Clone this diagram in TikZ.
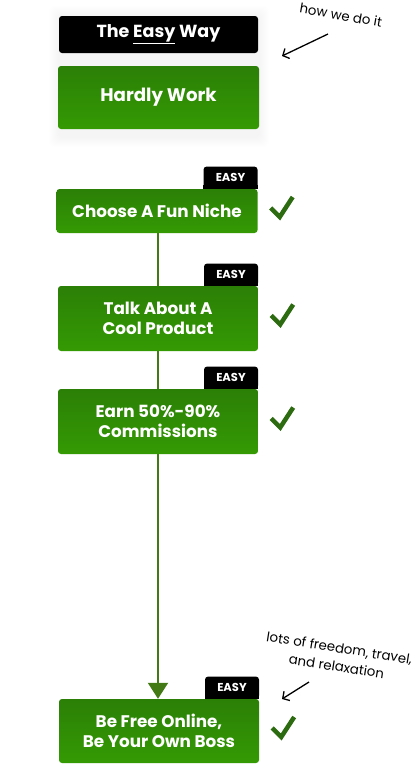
\documentclass[tikz,border=0pt]{standalone}
\usepackage{fontspec}
\setmainfont{Poppins}
\newfontfamily\notefont{Poppins}
\usetikzlibrary{arrows.meta,positioning}
\definecolor{Leaf}{HTML}{349A03}
\definecolor{LeafTop}{HTML}{2B7F06}
\definecolor{Stem}{HTML}{437A16}
\definecolor{Tick}{HTML}{2C6B10}
\pgfdeclarelayer{background}
\pgfsetlayers{background,main}

\begin{document}
\begin{tikzpicture}[
  x=1pt,y=-1pt,
  greenbox/.style={top color=LeafTop,bottom color=Leaf,rounded corners=3pt,minimum width=200pt,minimum height=65pt,align=center,text=white,font=\bfseries\fontsize{16.8}{20.5}\selectfont},
  darkbox/.style={fill=black,rounded corners=3pt,minimum width=199pt,minimum height=37pt,text=white,font=\bfseries\fontsize{17.5}{20}\selectfont},
  easytag/.style={fill=black,rounded corners=3pt,minimum width=54pt,minimum height=22pt,inner sep=0pt,text=white,font=\bfseries\fontsize{11.5}{12}\selectfont},
  flowline/.style={draw=Stem,line width=2pt},
  checkline/.style={draw=Tick,line width=4.5pt,line join=miter},
  tick/.pic={\draw[checkline] (-10,1) -- (-1,10) -- (12,-10);},
  note/.style={font=\notefont\fontsize{13.3}{18.5}\selectfont,align=center,inner sep=0pt},
  notearrow/.style={draw=black,line width=1.3pt,-{Straight Barb[length=5pt,width=11pt]}}
]
\useasboundingbox (0,0) rectangle (415,764);

% header
\node[darkbox] (easyway) at (158.5,34.5) {The \underline{Easy} Way};
\node[greenbox,minimum width=201pt,minimum height=63pt,font=\bfseries\fontsize{18.2}{20}\selectfont] (hardly) at (158.5,97.5) {Hardly Work};
\begin{pgfonlayer}{background}
  \foreach \s in {1,...,10}
    \fill[black,opacity=0.005,rounded corners=6pt] ([xshift=-\s pt,yshift=\s pt]easyway.north west) rectangle ([xshift=\s pt,yshift={-(\s+8)*1pt}]hardly.south east);
\end{pgfonlayer}

% steps
\node[greenbox,minimum width=201pt,minimum height=44pt] (niche) at (157,211) {Choose A Fun Niche};
\node[greenbox] (product) at (158,318.5) {Talk About A\\Cool Product};
\node[greenbox] (earn) at (158,421.5) {Earn 50\%-90\%\\Commissions};
\node[greenbox,minimum height=64pt] (free) at (159,731) {Be Free Online,\\Be Your Own Boss};

% tags and ticks
\foreach \b in {niche,product,earn,free} {
  \node[easytag,anchor=south east] (tag-\b) at (\b.north east) {EASY};
  \fill[black] (tag-\b.south west) rectangle ([yshift=4pt]tag-\b.south east);
  \pic at ([xshift=23pt,yshift=4pt]\b.east) {tick};
}

% connectors
\draw[flowline] (niche.south -| product.north) -- (product.north);
\draw[flowline] (product.south) -- (earn.north);
\draw[flowline,-{Triangle[length=16pt,width=20pt]}] (earn.south) -- (earn.south |- free.north);

% notes
\node[note,rotate=-10] (hownote) at (341,15) {how we do it};
\coordinate (howfrom) at (328,34);
\coordinate (howto) at (282,56);
\draw[notearrow] (howfrom) -- (howto);
\node[note,rotate=-9] (freenote) at (338,657) {lots of freedom, travel,\\and relaxation};
\coordinate (freefrom) at (309,682);
\coordinate (freeto) at (282,699);
\draw[notearrow] (freefrom) -- (freeto);
\end{tikzpicture}
\end{document}
